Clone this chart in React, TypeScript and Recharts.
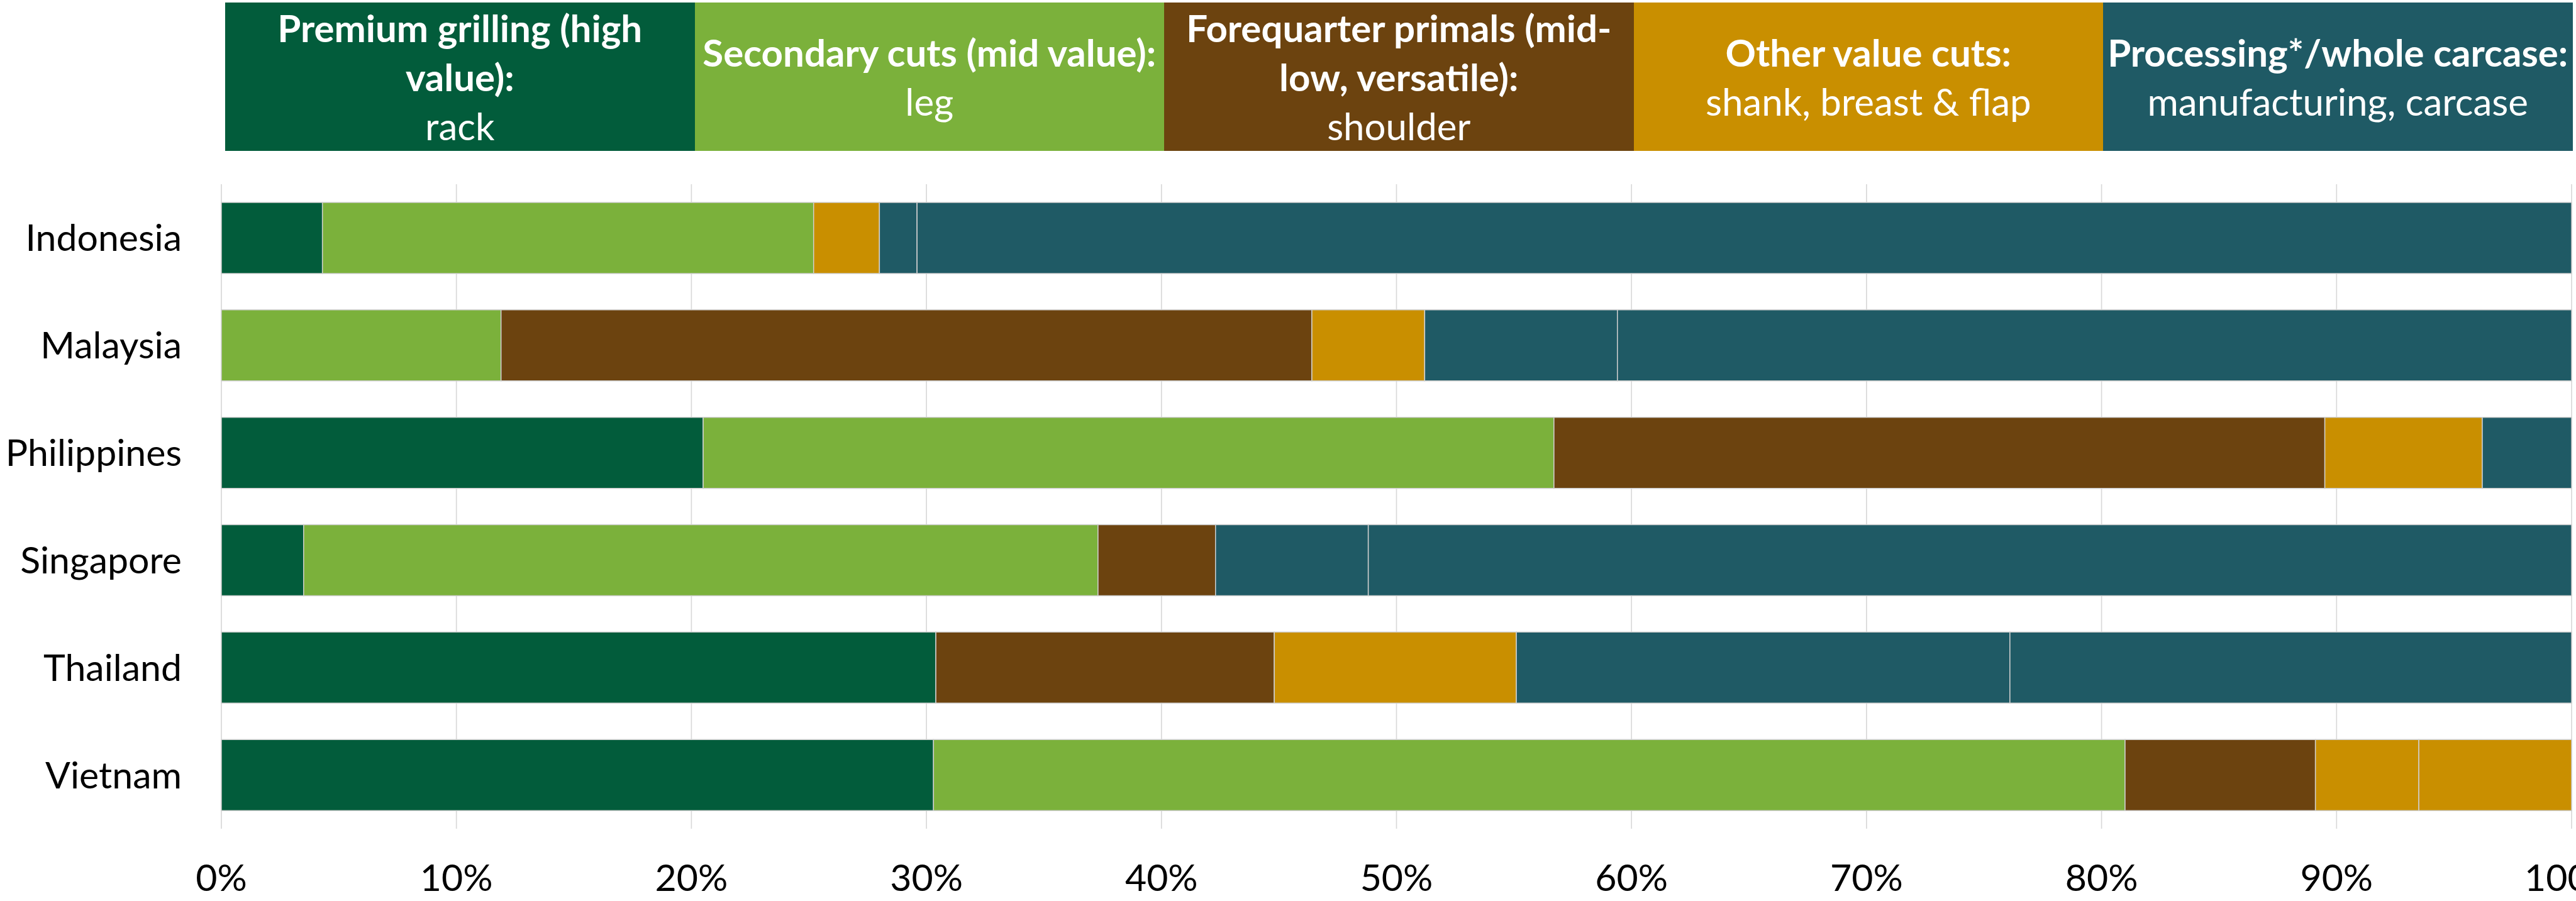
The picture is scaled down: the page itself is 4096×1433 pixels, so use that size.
import { BarChart, Bar, XAxis, YAxis, CartesianGrid } from "recharts";

// share of export value by cut, percent
const countries = ["Indonesia", "Malaysia", "Philippines", "Singapore", "Thailand", "Vietnam"];
const rack = [4.3, 0, 20.5, 3.5, 30.4, 30.3];
const leg = [20.9, 11.9, 36.2, 33.8, 0, 50.7];
const shoulder = [0, 34.5, 32.8, 5.0, 14.4, 8.1];
const shank = [2.8, 4.8, 6.7, 0, 10.3, 4.4];
const breastFlap = [0, 0, 0, 0, 0, 6.5];
const manufacturing = [1.6, 8.2, 3.8, 6.5, 21.0, 0];
const carcase = [70.4, 40.6, 0, 51.2, 23.9, 0];
const xTicks = [0, 10, 20, 30, 40, 50, 60, 70, 80, 90, 100];

const legendHeads = [
  ["Premium grilling (high", "value):"],
  ["Secondary cuts (mid value):"],
  ["Forequarter primals (mid-", "low, versatile):"],
  ["Other value cuts:"],
  ["Processing*/whole carcase:"],
];
const legendSubs = ["rack", "leg", "shoulder", "shank, breast & flap", "manufacturing, carcase"];

const DARK_GREEN = "#025c3b";
const LIGHT_GREEN = "#7bb13b";
const BROWN = "#6c430f";
const GOLD = "#c98f00";
const TEAL = "#1f5a65";
const legendColors = [DARK_GREEN, LIGHT_GREEN, BROWN, GOLD, TEAL];

const series = [
  { key: "rack", color: DARK_GREEN },
  { key: "leg", color: LIGHT_GREEN },
  { key: "shoulder", color: BROWN },
  { key: "shank", color: GOLD },
  { key: "breastFlap", color: GOLD },
  { key: "manufacturing", color: TEAL },
  { key: "carcase", color: TEAL },
];

const data = countries.map((country, i) => ({
  country,
  rack: rack[i],
  leg: leg[i],
  shoulder: shoulder[i],
  shank: shank[i],
  breastFlap: breastFlap[i],
  manufacturing: manufacturing[i],
  carcase: carcase[i],
}));

const FONT = "Lato, sans-serif";

function HeaderLegend() {
  return (
    <div
      style={{
        position: "absolute",
        left: 358,
        top: 4,
        display: "flex",
        fontFamily: FONT,
        color: "#ffffff",
        fontSize: 60,
        lineHeight: "78px",
        textAlign: "center",
      }}
    >
      {legendHeads.map((head, i) => (
        <div
          key={i}
          style={{
            width: 746.5,
            height: 236,
            background: legendColors[i],
            display: "flex",
            flexDirection: "column",
            justifyContent: "center",
            alignItems: "center",
            whiteSpace: "nowrap",
          }}
        >
          {head.map((line) => (
            <div key={line} style={{ fontWeight: 700 }}>
              {line}
            </div>
          ))}
          <div>{legendSubs[i]}</div>
        </div>
      ))}
    </div>
  );
}

export default function App() {
  return (
    <div
      style={{
        position: "absolute",
        left: 0,
        top: 0,
        width: 4096,
        height: 1433,
        background: "#ffffff",
        fontFamily: FONT,
      }}
    >
      <HeaderLegend />
      <BarChart
        width={4096}
        height={1433}
        data={data}
        layout="vertical"
        margin={{ top: 293, right: 7, bottom: 0, left: 0 }}
        barSize={113}
      >
        <CartesianGrid horizontal={false} stroke="#d9d9d9" strokeWidth={1.7} />
        <XAxis
          type="number"
          domain={[0, 100]}
          ticks={xTicks}
          interval={0}
          tickFormatter={(v: number) => `${v}%`}
          axisLine={false}
          tickLine={false}
          tickSize={0}
          tickMargin={57}
          height={115}
          tick={{ fontSize: 59, fill: "#000000", fontFamily: FONT }}
        />
        <YAxis
          type="category"
          dataKey="country"
          axisLine={false}
          tickLine={false}
          tickSize={0}
          tickMargin={63}
          width={352}
          tick={{ fontSize: 59, fill: "#000000", fontFamily: FONT }}
        />
        {series.map((s) => (
          <Bar
            key={s.key}
            dataKey={s.key}
            stackId="a"
            fill={s.color}
            stroke="#d0d0d0"
            strokeWidth={1.5}
            isAnimationActive={false}
          />
        ))}
      </BarChart>
    </div>
  );
}
